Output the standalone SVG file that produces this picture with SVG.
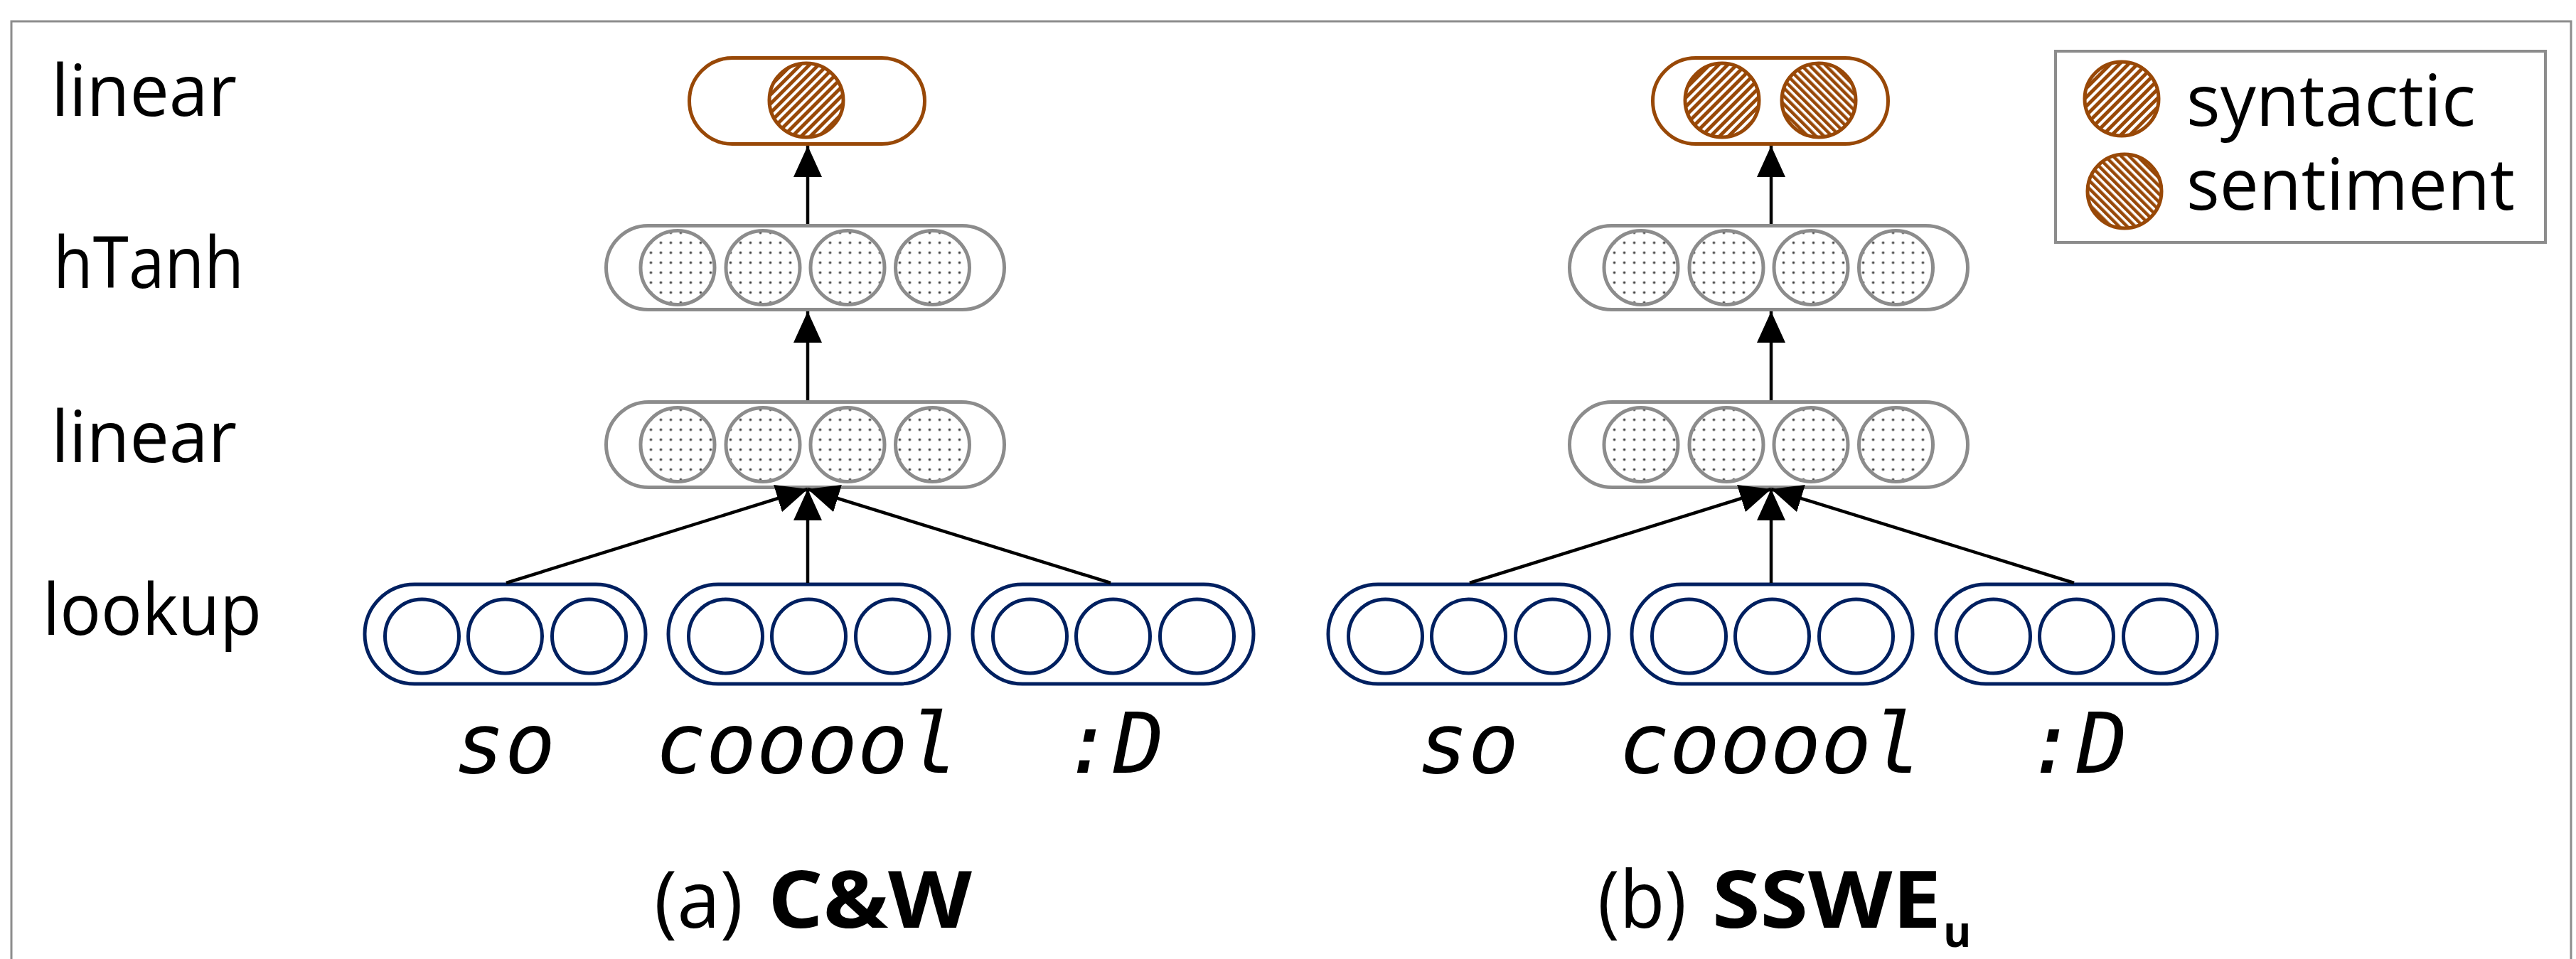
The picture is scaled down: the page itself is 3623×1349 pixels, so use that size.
<svg xmlns="http://www.w3.org/2000/svg" width="3623" height="1349" viewBox="0 0 3623 1349">
<style>
.frame{fill:none;stroke:#8c8c8c;stroke-width:3}
.gnode{fill:#fff;stroke:#8c8c8c;stroke-width:5}
.gcirc{fill:url(#dots);stroke:#8c8c8c;stroke-width:5}
.onode{fill:#fff;stroke:#984807;stroke-width:5}
.syn{fill:url(#hatchSyn);stroke:#984807;stroke-width:5}
.sen{fill:url(#hatchSen);stroke:#984807;stroke-width:5}
.bnode{fill:#fff;stroke:#002060;stroke-width:5}
.bcirc{fill:#fff;stroke:#002060;stroke-width:5}
.lbl{font-family:"Open Sans","Liberation Sans",sans-serif;font-size:100px;fill:#000}
.word{font-family:"DejaVu Sans Mono","Liberation Mono",monospace;font-style:italic;font-size:118px;fill:#000;text-anchor:middle}
.cap{font-family:"Open Sans","Liberation Sans",sans-serif;font-size:112px;fill:#000}
.bold{font-weight:bold}
.conn{stroke:#000;stroke-width:4.5;fill:none;marker-end:url(#arrow)}
</style>
<defs>
<pattern id="dots" width="14" height="14" patternUnits="userSpaceOnUse">
<rect width="14" height="14" fill="#fff"/>
<circle cx="7" cy="7" r="1.8" fill="#3a3a3a"/>
</pattern>
<pattern id="hatchSyn" width="9" height="9" patternUnits="userSpaceOnUse" patternTransform="rotate(45)">
<rect width="9" height="9" fill="#fff"/>
<rect width="5" height="9" fill="#984807"/>
</pattern>
<pattern id="hatchSen" width="8" height="8" patternUnits="userSpaceOnUse" patternTransform="rotate(-45)">
<rect width="8" height="8" fill="#fff"/>
<rect width="4.5" height="8" fill="#984807"/>
</pattern>
<marker id="arrow" viewBox="0 0 44 40" refX="44" refY="20" markerWidth="44" markerHeight="40" orient="auto" markerUnits="userSpaceOnUse">
<path d="M0,0 L44,20 L0,40 z" fill="#000"/>
</marker>
</defs>

<rect class="frame" x="16" y="30" width="3600" height="1340"/>

<g id="layer-labels">
<text class="lbl" x="72" y="163" textLength="261" lengthAdjust="spacingAndGlyphs">linear</text>
<text class="lbl" x="75" y="405" textLength="268" lengthAdjust="spacingAndGlyphs">hTanh</text>
<text class="lbl" x="72" y="650" textLength="261" lengthAdjust="spacingAndGlyphs">linear</text>
<text class="lbl" x="60" y="893" textLength="308" lengthAdjust="spacingAndGlyphs">lookup</text>
</g>

<!-- (a) C&W -->
<g id="a-linear-top" transform="translate(1135,142)">
<rect class="onode" x="-165.5" y="-60.5" width="331" height="121" rx="60.5"/>
<circle class="syn" cx="-1" cy="-1" r="52"/>
</g>
<g id="a-htanh" transform="translate(1132.5,376.5)">
<rect class="gnode" x="-280" y="-59" width="560" height="118" rx="59"/>
<circle class="gcirc" cx="-179.5" cy="0" r="52"/>
<circle class="gcirc" cx="-59.5" cy="0" r="52"/>
<circle class="gcirc" cx="59.5" cy="0" r="52"/>
<circle class="gcirc" cx="179" cy="0" r="52"/>
</g>
<g id="a-linear" transform="translate(1132.5,625.5)">
<rect class="gnode" x="-280" y="-60" width="560" height="120" rx="60"/>
<circle class="gcirc" cx="-179.5" cy="0" r="52"/>
<circle class="gcirc" cx="-59.5" cy="0" r="52"/>
<circle class="gcirc" cx="59.5" cy="0" r="52"/>
<circle class="gcirc" cx="179" cy="0" r="52"/>
</g>
<g id="a-lookup-so" transform="translate(710.5,892)">
<rect class="bnode" x="-197.5" y="-70" width="395" height="140" rx="70"/>
<circle class="bcirc" cx="-117" cy="3" r="52"/>
<circle class="bcirc" cx="0" cy="3" r="52"/>
<circle class="bcirc" cx="118" cy="3" r="52"/>
</g>
<g id="a-lookup-cooool" transform="translate(1137.5,892)">
<rect class="bnode" x="-197.5" y="-70" width="395" height="140" rx="70"/>
<circle class="bcirc" cx="-117" cy="3" r="52"/>
<circle class="bcirc" cx="0" cy="3" r="52"/>
<circle class="bcirc" cx="118" cy="3" r="52"/>
</g>
<g id="a-lookup-D" transform="translate(1565.5,892)">
<rect class="bnode" x="-197.5" y="-70" width="395" height="140" rx="70"/>
<circle class="bcirc" cx="-117" cy="3" r="52"/>
<circle class="bcirc" cx="0" cy="3" r="52"/>
<circle class="bcirc" cx="118" cy="3" r="52"/>
</g>
<g id="a-words">
<text class="word" x="710" y="1087">so</text>
<text class="word" x="1135" y="1087">cooool</text>
<text class="word" x="1566" y="1087">:D</text>
</g>
<g id="a-caption">
<text class="cap" x="920" y="1305" textLength="125" lengthAdjust="spacingAndGlyphs">(a)</text>
<text class="cap bold" x="1080" y="1305" textLength="287" lengthAdjust="spacingAndGlyphs">C&amp;W</text>
</g>

<!-- (b) SSWEu -->
<g id="b-linear-top" transform="translate(2490,142)">
<rect class="onode" x="-165.5" y="-60.5" width="331" height="121" rx="60.5"/>
<circle class="syn" cx="-68" cy="-1" r="52"/>
<circle class="sen" cx="68" cy="-1" r="52"/>
</g>
<g id="b-htanh" transform="translate(2487.5,376.5)">
<rect class="gnode" x="-280" y="-59" width="560" height="118" rx="59"/>
<circle class="gcirc" cx="-179.5" cy="0" r="52"/>
<circle class="gcirc" cx="-59.5" cy="0" r="52"/>
<circle class="gcirc" cx="59.5" cy="0" r="52"/>
<circle class="gcirc" cx="179" cy="0" r="52"/>
</g>
<g id="b-linear" transform="translate(2487.5,625.5)">
<rect class="gnode" x="-280" y="-60" width="560" height="120" rx="60"/>
<circle class="gcirc" cx="-179.5" cy="0" r="52"/>
<circle class="gcirc" cx="-59.5" cy="0" r="52"/>
<circle class="gcirc" cx="59.5" cy="0" r="52"/>
<circle class="gcirc" cx="179" cy="0" r="52"/>
</g>
<g id="b-lookup-so" transform="translate(2065.5,892)">
<rect class="bnode" x="-197.5" y="-70" width="395" height="140" rx="70"/>
<circle class="bcirc" cx="-117" cy="3" r="52"/>
<circle class="bcirc" cx="0" cy="3" r="52"/>
<circle class="bcirc" cx="118" cy="3" r="52"/>
</g>
<g id="b-lookup-cooool" transform="translate(2492.5,892)">
<rect class="bnode" x="-197.5" y="-70" width="395" height="140" rx="70"/>
<circle class="bcirc" cx="-117" cy="3" r="52"/>
<circle class="bcirc" cx="0" cy="3" r="52"/>
<circle class="bcirc" cx="118" cy="3" r="52"/>
</g>
<g id="b-lookup-D" transform="translate(2920.5,892)">
<rect class="bnode" x="-197.5" y="-70" width="395" height="140" rx="70"/>
<circle class="bcirc" cx="-117" cy="3" r="52"/>
<circle class="bcirc" cx="0" cy="3" r="52"/>
<circle class="bcirc" cx="118" cy="3" r="52"/>
</g>
<g id="b-words">
<text class="word" x="2065" y="1087">so</text>
<text class="word" x="2490" y="1087">cooool</text>
<text class="word" x="2921" y="1087">:D</text>
</g>
<g id="b-caption">
<text class="cap" x="2247" y="1305" textLength="125" lengthAdjust="spacingAndGlyphs">(b)</text>
<text class="cap bold" x="2408" y="1305" textLength="322" lengthAdjust="spacingAndGlyphs">SSWE</text>
<text class="cap bold" x="2733" y="1332" style="font-size:60px">u</text>
</g>

<g id="legend">
<rect x="2891" y="72" width="689" height="269" fill="#fff" stroke="#8c8c8c" stroke-width="4"/>
<circle class="syn" cx="2984" cy="139" r="52"/>
<circle class="sen" cx="2988" cy="269" r="52"/>
<text class="lbl" x="3075" y="177" textLength="407" lengthAdjust="spacingAndGlyphs">syntactic</text>
<text class="lbl" x="3075" y="295" textLength="462" lengthAdjust="spacingAndGlyphs">sentiment</text>
</g>

<g id="connectors">
<line class="conn" x1="1136" y1="315" x2="1136" y2="205"/>
<line class="conn" x1="1136" y1="563" x2="1136" y2="438"/>
<line class="conn" x1="712" y1="820" x2="1136" y2="688"/>
<line class="conn" x1="1136" y1="820" x2="1136" y2="688"/>
<line class="conn" x1="1562" y1="820" x2="1136" y2="688"/>
<line class="conn" x1="2491" y1="315" x2="2491" y2="205"/>
<line class="conn" x1="2491" y1="563" x2="2491" y2="438"/>
<line class="conn" x1="2067" y1="820" x2="2491" y2="688"/>
<line class="conn" x1="2491" y1="820" x2="2491" y2="688"/>
<line class="conn" x1="2917" y1="820" x2="2491" y2="688"/>
</g>
</svg>
